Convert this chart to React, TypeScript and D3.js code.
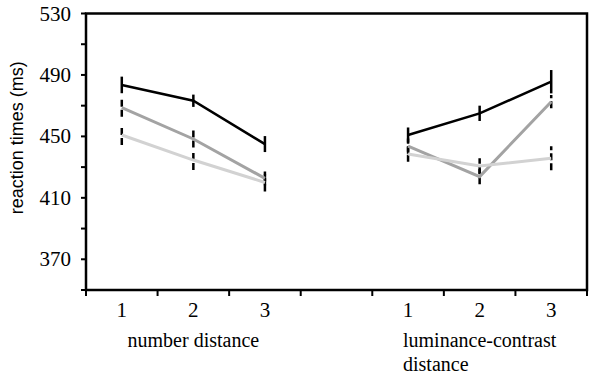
import { useEffect, useRef } from "react";
import * as d3 from "d3";

// band slots along x: two panels of three distances with an empty gap between
const slots = ["n1", "n2", "n3", "gap", "l1", "l2", "l3"];
const tickLabels = ["1", "2", "3", "", "1", "2", "3"];
const numberSlots = ["n1", "n2", "n3"];
const lumSlots = ["l1", "l2", "l3"];

// reaction times (ms) and error bar half-widths
const blackNumber = [483.5, 473.2, 445];
const blackNumberErr = [5.4, 4, 5.2];
const midNumber = [468.7, 448.3, 422.7];
const midNumberErr = [5.9, 5.5, 4.5];
const lightNumber = [450.9, 434.6, 420];
const lightNumberErr = [6.5, 6.5, 5.8];

const blackLum = [450.9, 465, 485.6];
const blackLumErr = [4.9, 5, 7.6];
const midLum = [443.7, 423.8, 472.6];
const midLumErr = [5, 5, 4.3];
const lightLum = [438.5, 430.7, 435.7];
const lightLumErr = [5, 5, 7.8];

const yTicks = [350, 370, 390, 410, 430, 450, 470, 490, 510, 530];
const yLabels = [370, 410, 450, 490, 530];

function App() {
  const svgRef = useRef<SVGSVGElement>(null);

  useEffect(() => {
    const width = 591;
    const height = 379;
    const margin = { top: 13.5, right: 4, bottom: 89, left: 86 };

    const svg = d3.select(svgRef.current);
    svg.selectAll("*").remove();

    const x = d3
      .scaleBand()
      .domain(slots)
      .range([margin.left, width - margin.right]);

    const y = d3
      .scaleLinear()
      .domain([350, 530])
      .range([height - margin.bottom, margin.top]);

    const series = [
      { slots: numberSlots, vals: midNumber, err: midNumberErr, color: "#a3a3a3", dash: "7,3" },
      { slots: numberSlots, vals: lightNumber, err: lightNumberErr, color: "#d2d2d2", dash: "7,3" },
      { slots: numberSlots, vals: blackNumber, err: blackNumberErr, color: "#000", dash: null },
      { slots: lumSlots, vals: midLum, err: midLumErr, color: "#a3a3a3", dash: "7,3" },
      { slots: lumSlots, vals: lightLum, err: lightLumErr, color: "#d2d2d2", dash: "7,3" },
      { slots: lumSlots, vals: blackLum, err: blackLumErr, color: "#000", dash: null },
    ];

    const cx = (s: string) => (x(s) as number) + x.bandwidth() / 2;

    // error bars first, lines on top
    series.forEach(s => {
      s.vals.forEach((v, i) => {
        svg.append("line")
          .attr("x1", cx(s.slots[i]))
          .attr("x2", cx(s.slots[i]))
          .attr("y1", y(v - s.err[i]))
          .attr("y2", y(v + s.err[i]))
          .attr("stroke", "#000")
          .attr("stroke-width", 2.5)
          .attr("stroke-dasharray", s.dash);
      });
    });

    const line = d3
      .line<[string, number]>()
      .x(d => cx(d[0]))
      .y(d => y(d[1]));

    series.forEach(s => {
      svg.append("path")
        .datum(s.vals.map((v, i) => [s.slots[i], v] as [string, number]))
        .attr("fill", "none")
        .attr("stroke", s.color)
        .attr("stroke-width", s.color === "#000" ? 2.5 : 3)
        .attr("d", line);
    });

    // frame
    const x0 = margin.left;
    const x1 = width - margin.right;
    const y0 = y(350);
    const y1 = y(530);
    svg.append("rect")
      .attr("x", x0)
      .attr("y", y1)
      .attr("width", x1 - x0)
      .attr("height", y0 - y1)
      .attr("fill", "none")
      .attr("stroke", "#000")
      .attr("stroke-width", 2.5);

    // y ticks
    svg.selectAll(".ytick")
      .data(yTicks)
      .enter()
      .append("line")
      .attr("x1", x0 - 5)
      .attr("x2", x0)
      .attr("y1", d => y(d))
      .attr("y2", d => y(d))
      .attr("stroke", "#000")
      .attr("stroke-width", 2);

    svg.selectAll(".ylab")
      .data(yLabels)
      .enter()
      .append("text")
      .attr("x", x0 - 15)
      .attr("y", d => y(d) + 7)
      .attr("text-anchor", "end")
      .attr("font-family", "Liberation Serif, serif")
      .attr("font-size", 21)
      .text(d => d);

    // x ticks at band edges
    const edges = slots.map(s => x(s) as number).concat([x1]);
    svg.selectAll(".xtick")
      .data(edges)
      .enter()
      .append("line")
      .attr("x1", d => d)
      .attr("x2", d => d)
      .attr("y1", y0)
      .attr("y2", y0 + 6)
      .attr("stroke", "#000")
      .attr("stroke-width", 2);

    svg.selectAll(".xlab")
      .data(slots)
      .enter()
      .append("text")
      .attr("x", d => cx(d))
      .attr("y", y0 + 27)
      .attr("text-anchor", "middle")
      .attr("font-family", "Liberation Serif, serif")
      .attr("font-size", 21)
      .text((d, i) => tickLabels[i]);

    svg.append("text")
      .attr("x", cx("n2"))
      .attr("y", y0 + 57)
      .attr("text-anchor", "middle")
      .attr("font-family", "Liberation Serif, serif")
      .attr("font-size", 20)
      .text("number distance");

    const lum = svg.append("text")
      .attr("x", cx("l2"))
      .attr("y", y0 + 57)
      .attr("text-anchor", "middle")
      .attr("font-family", "Liberation Serif, serif")
      .attr("font-size", 20)
      .text("luminance-contrast");
    const bb = (lum.node() as SVGTextElement).getBBox();

    svg.append("text")
      .attr("x", bb.x)
      .attr("y", y0 + 81)
      .attr("font-family", "Liberation Serif, serif")
      .attr("font-size", 20)
      .text("distance");

    svg.append("text")
      .attr("transform", `translate(${x0 - 63},${(y0 + y1) / 2 - 14}) rotate(-90)`)
      .attr("text-anchor", "middle")
      .attr("font-family", "Liberation Sans, Arial, sans-serif")
      .attr("font-size", 18)
      .text("reaction times (ms)");
  }, []);

  return (
    <svg
      ref={svgRef}
      width={591}
      height={379}
      style={{ position: "absolute", left: 0, top: 0, background: "#fff" }}
    ></svg>
  );
}

export default App;
